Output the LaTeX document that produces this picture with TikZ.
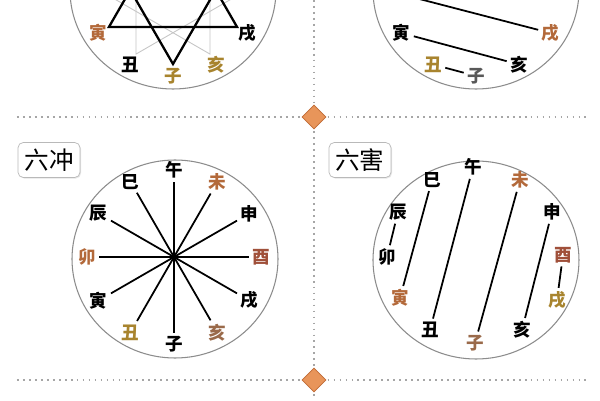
\documentclass[tikz,border=0pt]{standalone}
\usepackage{xcolor}
\definecolor{b3693a}{HTML}{b3693a}
\definecolor{a0503a}{HTML}{a0503a}
\definecolor{a8842e}{HTML}{a8842e}
\definecolor{9a6a4a}{HTML}{9a6a4a}
\definecolor{e8955a}{HTML}{e8955a}
\definecolor{c06a35}{HTML}{c06a35}
\usepackage{tikz}
\usepackage{fontspec}
\newfontfamily\cjk{Noto Sans CJK SC}
\usetikzlibrary{shapes.geometric}
\usetikzlibrary{shadows}

\begin{document}
\begin{tikzpicture}[x=0.02cm, y=0.02cm,
        lbl/.style={inner sep=1.8pt, font=\cjk\bfseries\fontsize{10}{10}\selectfont},
        tag/.style={draw=gray!55, fill=white, rounded corners=3pt, minimum width=1.24cm, minimum height=0.7cm,
            drop shadow={opacity=0.2, shadow xshift=0.6pt, shadow yshift=-0.6pt},
            font=\cjk\fontsize{14}{14}\selectfont},
        rim/.style={draw=gray!90, line width=0.6pt},
        rule/.style={gray!70, line width=1pt, dash pattern=on 1pt off 2.4pt},
        gem/.style={diamond, draw=c06a35, fill=e8955a, minimum size=0.48cm, inner sep=0pt}]
    \clip (0,0) rectangle (600,400);
    \fill[white] (0,0) rectangle (600,400);

    % separators
    \draw[rule] (314,400) -- (314,0);
    \draw[rule] (17,283) -- (587,283);
    \draw[rule] (17,20) -- (587,20);
    \node (gem1) at (314,283) [gem] {};
    \node (gem2) at (314,20) [gem] {};

    % top left, partly cut
    \begin{scope}[shift={(173,410)}]
        \draw[rim] (0,0) ellipse [x radius=103, y radius=99];
        \foreach \i in {0, 1, ..., 11} {
            \coordinate (sp\i) at ({270-30*\i}:74);
        }
        \foreach \i/\z/\c in {0/子/a8842e, 1/丑/black, 2/寅/b3693a, 10/戌/black, 11/亥/a8842e} {
            \node (s\i) at ({270-30*\i}:86) [lbl, text=\c] {\z};
        }
        \draw[gray!45, line width=0.5pt] (sp5) -- (sp9) -- (sp1) -- cycle;
        \draw[gray!45, line width=0.5pt] (sp11) -- (sp3) -- (sp7) -- cycle;
        \draw[line width=1.3pt] (sp2) -- (sp6) -- (sp10) -- cycle;
        \draw[line width=1.3pt] (sp8) -- (sp0) -- (sp4) -- cycle;
    \end{scope}

    % top right, partly cut
    \begin{scope}[shift={(476,410)}]
        \draw[rim] (0,0) ellipse [x radius=103, y radius=99];
        \foreach \i/\z/\c in {0/子/gray!70!black, 1/丑/a8842e, 2/寅/black, 10/戌/b3693a, 11/亥/black} {
            \node (he\i) at ({270-30*\i}:86) [lbl, text=\c] {\z};
        }
        \coordinate (he3) at (-72,-5);
        \draw[line width=1pt] (he3) -- (he10);
        \draw[line width=1pt] (he2) -- (he11);
        \draw[line width=1pt] (he1) -- (he0);
    \end{scope}

    % six clashes
    \node (chong) at (49,240) [tag] {六冲};
    \begin{scope}[shift={(174,143)}]
        \draw[rim] (1,-2) ellipse [x radius=103, y radius=99];
        \foreach \i/\z/\c in {0/子/black, 1/丑/a8842e, 2/寅/black, 3/卯/b3693a, 4/辰/black, 5/巳/black,
                6/午/black, 7/未/b3693a, 8/申/black, 9/酉/a0503a, 10/戌/black, 11/亥/9a6a4a} {
            \node (c\i) at ({270-30*\i}:87) [lbl, text=\c] {\z};
        }
        \foreach \i/\j in {0/6, 1/7, 2/8, 3/9, 4/10, 5/11} {
            \draw[line width=1pt] (c\i) -- (c\j);
        }
        \fill (0,0) circle [radius=2.8];
    \end{scope}

    % six harms
    \node (hai) at (360,240) [tag] {六害};
    \begin{scope}[shift={(476,140)}]
        \draw[rim] (0,0) ellipse [x radius=103, y radius=99];
        \node (h0) at (-1,-83) [lbl, text=9a6a4a] {子};
        \node (h1) at (-46,-70) [lbl] {丑};
        \node (h2) at (-76,-38) [lbl, text=b3693a] {寅};
        \node (h3) at (-89,3) [lbl] {卯};
        \node (h4) at (-78,48) [lbl] {辰};
        \node (h5) at (-44,80) [lbl] {巳};
        \node (h6) at (-3,93) [lbl] {午};
        \node (h7) at (44,80) [lbl, text=b3693a] {未};
        \node (h8) at (76,48) [lbl] {申};
        \node (h9) at (87,5) [lbl, text=a0503a] {酉};
        \node (h10) at (81,-40) [lbl, text=a8842e] {戌};
        \node (h11) at (46,-70) [lbl] {亥};

        \draw[line width=1pt] (h4) -- (h3);
        \draw[line width=1pt] (h5) -- (h2);
        \draw[line width=1pt] (h6) -- (h1);
        \draw[line width=1pt] (h7) -- (h0);
        \draw[line width=1pt] (h8) -- (h11);
        \draw[line width=1pt] (h9) -- (h10);
    \end{scope}
\end{tikzpicture}
\end{document}
